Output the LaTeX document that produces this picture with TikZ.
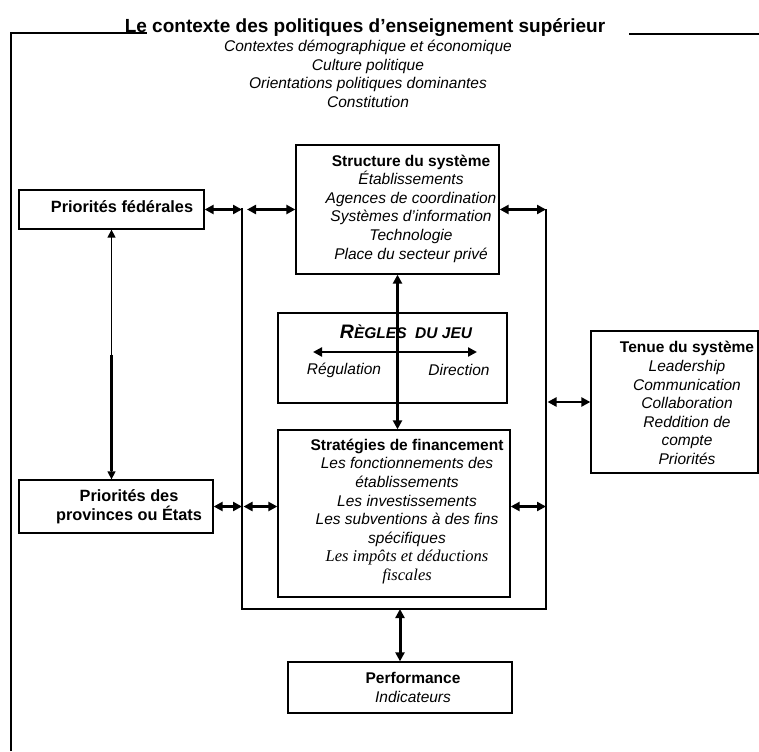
\documentclass[tikz,border=0pt]{standalone}
\usepackage{fontspec}
\setmainfont{Liberation Sans}
\newfontfamily\timesfont{Liberation Serif}
\usetikzlibrary{positioning,arrows.meta,calc}

\begin{document}
\begin{tikzpicture}[
  x=1pt, y=-1pt,
  box/.style={rectangle, draw=black, line width=1.3pt, inner sep=0pt},
  head/.style={font=\fontsize{16.3}{18.6}\selectfont\bfseries, align=center, inner sep=0pt},
  items/.style={font=\fontsize{15.5}{18.6}\selectfont\itshape, align=center, inner sep=0pt},
  arrow/.style={{Triangle[length=9pt,width=9pt]}-{Triangle[length=9pt,width=9pt]}, line width=2.5pt},
  thinarrow/.style={{Triangle[length=8pt,width=8pt]}-{Triangle[length=8pt,width=8pt]}, line width=1.4pt},
  frameline/.style={line width=1.3pt}
]
\useasboundingbox (0,0) rectangle (759,751);

% Context frame and title
\coordinate (ctxbot) at (11,751);
\coordinate (ctxcorner) at (11,33);
\coordinate (ctxend) at (147,33);
\coordinate (ctxright1) at (629,34);
\coordinate (ctxright2) at (759,34);
\draw[frameline] (ctxbot) -- (ctxcorner) -- (ctxend);
\draw[frameline] (ctxright1) -- (ctxright2);
\node[anchor=base, inner sep=0pt, font=\fontsize{19}{22}\selectfont\bfseries] (title) at (365,32.5)
  {Le contexte des politiques d’enseignement supérieur};
\node[items] (context) at (368,74)
  {Contextes démographique et économique\\Culture politique\\Orientations politiques dominantes\\Constitution};

% Boxes
\node[box, minimum width=185, minimum height=39] (fed) at (111.5,209.5) {};
\node[box, minimum width=194, minimum height=53] (prov) at (116,506.5) {};
\node[box, minimum width=203, minimum height=129] (struct) at (397.5,209.5) {};
\node[box, minimum width=229, minimum height=90] (regles) at (392.5,358) {};
\node[box, minimum width=232, minimum height=167] (strat) at (394,513.5) {};
\node[box, minimum width=167, minimum height=142] (tenue) at (674.5,402) {};
\node[box, minimum width=224, minimum height=51] (perf) at (400,687.5) {};

% Box texts
\node[head] (fedtxt) at (122,207) {Priorités fédérales};
\node[head, font=\fontsize{16.3}{19}\selectfont\bfseries] (provtxt) at (129,506.5) {Priorités des\\provinces ou États};
\node[items] (structtxt) at (411,208.5)
  {{\bfseries\upshape Structure du système}\\Établissements\\Agences de coordination\\Systèmes d’information\\Technologie\\Place du secteur privé};
\node[inner sep=0pt, font=\bfseries\itshape] (reglestxt) at (406,332)
  {{\fontsize{19.5}{22}\selectfont R}{\fontsize{15.5}{22}\selectfont ÈGLES\ \ DU JEU}};
\node[items] (regul) at (344,370) {Régulation};
\node[items] (direc) at (459,370) {Direction};
\node[items] (strattxt) at (407,511.5)
  {{\bfseries\upshape Stratégies de financement}\\Les fonctionnements des\\établissements\\Les investissements\\Les subventions à des fins\\spécifiques\\{\timesfont\fontsize{16.5}{18.6}\selectfont Les impôts et déductions}\\{\timesfont\fontsize{16.5}{18.6}\selectfont fiscales}};
\node[items] (tenuetxt) at (687,403)
  {{\bfseries\upshape Tenue du système}\\Leadership\\Communication\\Collaboration\\Reddition de\\compte\\Priorités};
\node[items] (perftxt) at (413,687.5) {{\bfseries\upshape Performance}\\Indicateurs};

% Inner frame
\coordinate (frameL) at (242,208);
\coordinate (frameLB) at (242,609);
\coordinate (frameRB) at (546,609);
\coordinate (frameR) at (546,209);
\draw[frameline] (frameL) -- (frameLB) -- (frameRB) -- (frameR);

% Rules of the game
\coordinate (regleft) at (313,352);
\coordinate (regright) at (477,352);
\draw[arrow] (regleft) -- (regright);

% Links
\draw[arrow] (fed.east) -- (fed.east -| frameL);
\draw[arrow] ($(frameL |- struct.west)+(5,0)$) -- (struct.west);
\draw[arrow] (struct.east) -- (struct.east -| frameR);
\draw[arrow] (prov.east) -- (prov.east -| frameL);
\draw[arrow] ($(prov.east -| frameL)+(1.5,0)$) -- (prov.east -| strat.west);
\draw[arrow] (prov.east -| strat.east) -- (prov.east -| frameR);
\draw[arrow] ($(tenue.west -| frameR)+(1.5,0)$) -- (tenue.west);
\draw[arrow, line width=3pt] (struct.south) -- (struct.south |- strat.north);
\draw[arrow, line width=3pt] (perf.north |- frameLB) -- (perf.north);
\draw[thinarrow] (fed.south) -- (fed.south |- prov.north);
\draw[line width=2.6pt] ($(fed.south)!0.5!(fed.south |- prov.north)$) -- ($(fed.south |- prov.north)+(0,-8)$);

\end{tikzpicture}
\end{document}
